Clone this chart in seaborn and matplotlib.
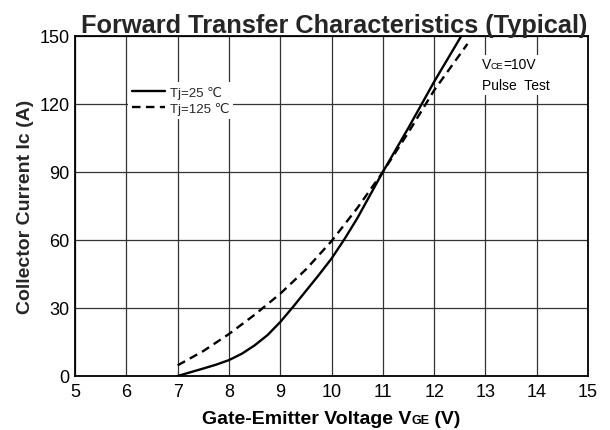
import matplotlib
matplotlib.use("Agg")
import matplotlib.pyplot as plt
from matplotlib.offsetbox import TextArea, HPacker, VPacker, AnchoredOffsetbox
import seaborn as sns
import pandas as pd

# ---- data ----
vge_25 = [7.0, 7.5, 7.75, 8.0, 8.25, 8.5, 8.75, 9.0, 9.25, 9.5, 9.75, 10.0,
          10.25, 10.5, 11.0, 11.5, 12.0, 12.53]
ic_25 = [0.0, 3.3, 5.0, 7.0, 9.8, 13.5, 18.0, 23.8, 30.5, 37.5, 44.5, 51.8,
         60.3, 69.5, 90.0, 109.5, 129.8, 150.0]
vge_125 = [7.0, 7.5, 8.0, 8.5, 9.0, 9.5, 10.0, 10.5, 11.0, 11.5, 12.0, 12.65]
ic_125 = [4.7, 11.0, 18.5, 27.0, 36.3, 47.0, 59.5, 74.0, 90.0, 107.5, 126.0, 146.5]
series_labels = ["Tj=25 ℃", "Tj=125 ℃"]
x_ticks = [5, 6, 7, 8, 9, 10, 11, 12, 13, 14, 15]
y_ticks = [0, 30, 60, 90, 120, 150]

df = pd.concat([
    pd.DataFrame({"VGE": vge_25, "Ic": ic_25, "Tj": series_labels[0]}),
    pd.DataFrame({"VGE": vge_125, "Ic": ic_125, "Tj": series_labels[1]}),
], ignore_index=True)

sns.set_theme(style="white")
plt.rcParams["font.family"] = ["Liberation Sans", "DejaVu Sans"]

fig = plt.figure(figsize=(6.1, 4.31), dpi=100)
ax = fig.add_axes([0.123, 0.1253, 0.841, 0.789])

sns.lineplot(data=df, x="VGE", y="Ic", style="Tj", color="black",
             dashes={series_labels[0]: "", series_labels[1]: (3.6, 2.3)},
             linewidth=1.7, ax=ax, legend=True, sort=False)

ax.set_xlim(5, 15)
ax.set_ylim(0, 150)
ax.set_xticks(x_ticks)
ax.set_yticks(y_ticks)
ax.set_xticklabels([str(t) for t in x_ticks], fontsize=13)
ax.set_yticklabels([str(t) for t in y_ticks], fontsize=13)
ax.tick_params(axis="x", length=0, pad=5, colors="black")
ax.tick_params(axis="y", length=0, pad=4, colors="black")
ax.grid(True, color="#333333", linewidth=0.9)
ax.set_axisbelow(True)
for s in ax.spines.values():
    s.set_color("black")
    s.set_linewidth(1.3)

ax.set_xlabel("")
ax.set_ylabel("Collector Current Ic (A)", fontsize=14, fontweight="bold",
              labelpad=4)
ax.set_title("Forward Transfer Characteristics (Typical)", fontsize=18.3,
             fontweight="bold", pad=3, x=0.505)

# x label with small "GE" on the baseline
big = dict(fontsize=14, fontweight="bold", color="black")
small = dict(fontsize=9, fontweight="bold", color="black")
xl = HPacker(children=[TextArea("Gate-Emitter Voltage V", textprops=big),
                       TextArea("GE", textprops=small),
                       TextArea(" (V)", textprops=big)],
             align="baseline", pad=0, sep=0)
fig.add_artist(AnchoredOffsetbox(loc="lower center", child=xl, pad=0,
                                 borderpad=0, frameon=False,
                                 bbox_to_anchor=(0.543, 0.008),
                                 bbox_transform=fig.transFigure))

leg = ax.legend(loc="upper left", bbox_to_anchor=(0.09, 0.885), frameon=True,
                fontsize=9.5, handlelength=2.5, handletextpad=0.4,
                labelspacing=0.25, borderpad=0.3, title=None,
                facecolor="white", edgecolor="white", framealpha=1)
leg.get_frame().set_linewidth(0)

# V_CE note
n1 = dict(fontsize=10, color="black")
n2 = dict(fontsize=6.5, color="black")
line1 = HPacker(children=[TextArea("V", textprops=n1),
                          TextArea("CE", textprops=n2),
                          TextArea("=10V", textprops=n1)],
                align="baseline", pad=0, sep=0)
note = VPacker(children=[line1, TextArea("Pulse  Test", textprops=n1)],
               align="left", pad=0, sep=5)
ab = AnchoredOffsetbox(loc="upper left", child=note, pad=0.15, borderpad=0,
                       frameon=True, bbox_to_anchor=(12.88, 141.5),
                       bbox_transform=ax.transData)
ab.patch.set_facecolor("white")
ab.patch.set_edgecolor("none")
ax.add_artist(ab)

fig.savefig("out.png", dpi=100)
